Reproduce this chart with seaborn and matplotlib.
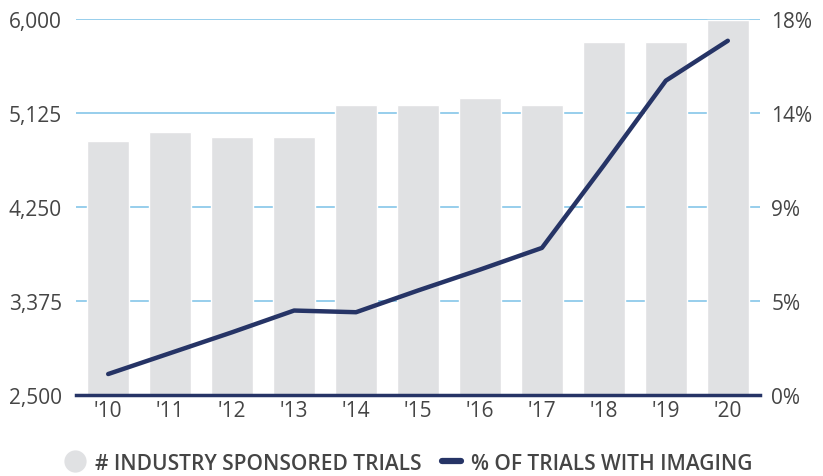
import numpy as np
import pandas as pd
import matplotlib
matplotlib.use("Agg")
import matplotlib.pyplot as plt
import seaborn as sns
from matplotlib.lines import Line2D

# data
years = ["'10", "'11", "'12", "'13", "'14", "'15", "'16", "'17", "'18", "'19", "'20"]
trials = [4864, 4948, 4902, 4902, 5199, 5199, 5265, 5199, 5786, 5786, 5995]
imaging_pct = [1.0, 2.0, 3.0, 4.04, 3.96, 5.0, 6.0, 7.04, 11.0, 15.05, 16.96]
left_ticks = [2500, 3375, 4250, 5125, 6000]
right_ticks = [0, 4.5, 9, 13.5, 18]
right_labels = ["0%", "5%", "9%", "14%", "18%"]

bar_color = "#e0e1e3"
line_color = "#263466"
grid_color = "#8fcaea"
text_color = "#454545"

sns.set_style("white")
plt.rcParams["font.family"] = ["Open Sans", "DejaVu Sans"]

df = pd.DataFrame({"year": years, "trials": trials, "pct": imaging_pct})
df["pos"] = np.arange(len(df))

fig = plt.figure(figsize=(8.23, 4.77), dpi=100)
ax = fig.add_axes([0.0923, 0.170, 0.8312, 0.788])

sns.barplot(data=df, x="year", y="trials", color=bar_color, width=0.68,
            saturation=1, ax=ax, zorder=2)
ax.set_ylim(2500, 6000)
ax.set_xlim(-0.52, 10.52)
ax.set_yticks(left_ticks)
ax.set_yticklabels([f"{t:,}" for t in left_ticks])
ax.yaxis.grid(True, color=grid_color, linewidth=1.3, zorder=0)
ax.set_axisbelow(True)
ax.set_xlabel("")
ax.set_ylabel("")
for s in ["top", "left", "right"]:
    ax.spines[s].set_visible(False)
ax.spines["bottom"].set_color(line_color)
ax.spines["bottom"].set_linewidth(2.5)
ax.spines["bottom"].set_zorder(5)
ax.tick_params(axis="both", length=0, labelsize=15, colors=text_color)
ax.tick_params(axis="x", pad=4)
ax.tick_params(axis="y", pad=10)

ax2 = ax.twinx()
sns.lineplot(data=df, x="pos", y="pct", color=line_color, linewidth=3.2, ax=ax2)
ax2.set_ylim(0, 18)
ax2.set_xlim(-0.52, 10.52)
ax2.set_yticks(right_ticks)
ax2.set_yticklabels(right_labels)
ax2.set_xlabel("")
ax2.set_ylabel("")
for s in ax2.spines.values():
    s.set_visible(False)
ax2.tick_params(axis="y", length=0, labelsize=15, colors=text_color, pad=8)

handles = [
    Line2D([], [], marker="o", linestyle="none", markersize=15,
           markerfacecolor=bar_color, markeredgecolor=bar_color),
    Line2D([], [], color=line_color, linewidth=4.5),
]
fig.legend(handles, ["# INDUSTRY SPONSORED TRIALS", "% OF TRIALS WITH IMAGING"],
           loc="center", bbox_to_anchor=(0.497, 0.027), ncol=2, frameon=False,
           handlelength=0.9, handletextpad=0.5, columnspacing=1.0,
           labelcolor=text_color, prop={"weight": "semibold", "size": 15})

fig.savefig("out.png", dpi=100)
